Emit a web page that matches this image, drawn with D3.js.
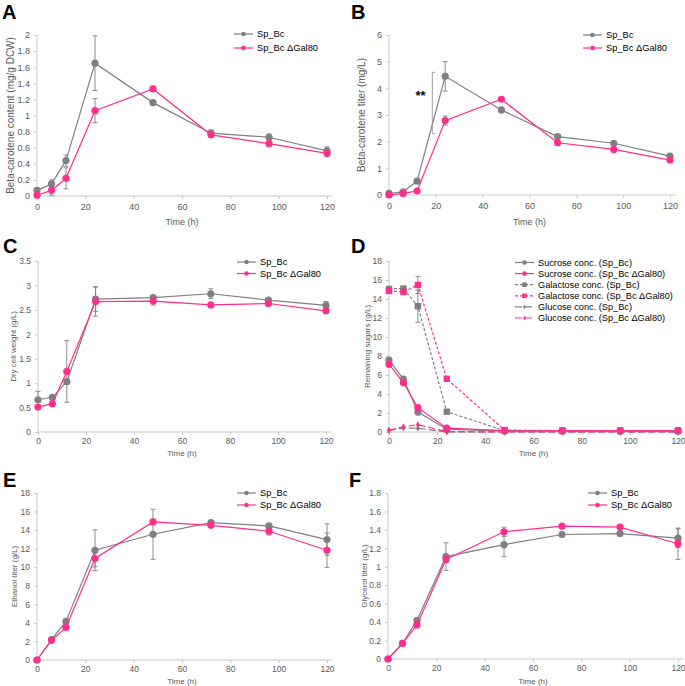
<!DOCTYPE html>
<html>
<head>
<meta charset="utf-8">
<script src="https://cdn.jsdelivr.net/npm/d3@7"></script>
<style>
  body { margin: 0; background: #fff; }
  svg { font-family: "Liberation Sans", Arial, sans-serif; }
  .tick text { fill: #595959; }
  .tick line, .domain { stroke: #c8c8c8; }
</style>
</head>
<body>
<svg id="chart" width="685" height="686"></svg>
<script>
// sampling times (h)
const times = [0, 6, 12, 24, 48, 72, 96, 120];
const xTicks = [0, 20, 40, 60, 80, 100, 120];

// A: beta-carotene content (mg/g DCW)
const aGray = [0.07, 0.15, 0.44, 1.65, 1.16, 0.78, 0.73, 0.56];
const aGrayErr = [0.03, 0.05, 0.07, 0.34, 0.03, 0.04, 0.04, 0.05];
const aPink = [0.01, 0.07, 0.22, 1.06, 1.33, 0.76, 0.65, 0.53];
const aPinkErr = [0.02, 0.06, 0.13, 0.15, 0.02, 0.03, 0.02, 0.04];

// B: beta-carotene titer (mg/L)
const bGray = [0.06, 0.12, 0.52, 4.45, 3.19, 2.19, 1.94, 1.46];
const bGrayErr = [0.03, 0.05, 0.08, 0.55, 0.07, 0.06, 0.06, 0.06];
const bPink = [0.0, 0.06, 0.15, 2.79, 3.59, 1.96, 1.71, 1.31];
const bPinkErr = [0.02, 0.03, 0.05, 0.17, 0.08, 0.07, 0.06, 0.06];

// C: dry cell weight (g/L)
const cGray = [0.66, 0.71, 1.03, 2.72, 2.75, 2.83, 2.70, 2.59];
const cGrayErr = [0.17, 0.03, 0.05, 0.25, 0.04, 0.10, 0.03, 0.08];
const cPink = [0.51, 0.58, 1.24, 2.67, 2.68, 2.60, 2.63, 2.48];
const cPinkErr = [0.03, 0.03, 0.63, 0.30, 0.08, 0.03, 0.03, 0.03];

// D: remaining sugars (g/L)
const sucGray = [7.56, 5.57, 2.1, 0.3, 0.1, 0.1, 0.1, 0.1];
const sucPink = [7.14, 5.18, 2.56, 0.4, 0.15, 0.15, 0.15, 0.15];
const galGray = [15.06, 15.1, 13.24, 2.14, 0.14, 0.1, 0.1, 0.1];
const galGrayErr = [0.1, 0.1, 1.7, 0.1, 0.05, 0.05, 0.05, 0.05];
const galPink = [14.85, 14.74, 15.48, 5.6, 0.2, 0.15, 0.15, 0.15];
const galPinkErr = [0.1, 0.1, 0.9, 0.1, 0.05, 0.05, 0.05, 0.05];
const gluGray = [0.15, 0.4, 0.4, 0.0, 0.0, 0.0, 0.0, 0.0];
const gluPink = [0.2, 0.56, 0.77, 0.05, 0.0, 0.0, 0.0, 0.0];

// E: ethanol titer (g/L)
const eGray = [0, 2.19, 4.16, 11.83, 13.55, 14.81, 14.45, 12.98];
const eGrayErr = [0, 0.1, 0.2, 2.2, 2.7, 0.2, 0.2, 1.7];
const ePink = [0, 2.12, 3.51, 10.94, 14.88, 14.52, 13.88, 11.83];
const ePinkErr = [0, 0.1, 0.2, 0.9, 0.3, 0.2, 0.4, 1.85];

// F: glycerol titer (g/L)
const fGray = [0, 0.17, 0.42, 1.11, 1.24, 1.35, 1.36, 1.31];
const fGrayErr = [0, 0.01, 0.02, 0.15, 0.13, 0.02, 0.02, 0.1];
const fPink = [0, 0.17, 0.37, 1.08, 1.38, 1.44, 1.43, 1.25];
const fPinkErr = [0, 0.01, 0.02, 0.03, 0.05, 0.02, 0.02, 0.17];

const strainNames = ["Sp_Bc", "Sp_Bc \u0394Gal80"];
const sugarNames = [
  "Sucrose conc. (Sp_Bc)", "Sucrose conc. (Sp_Bc \u0394Gal80)",
  "Galactose conc. (Sp_Bc)", "Galactose conc. (Sp_Bc \u0394Gal80)",
  "Glucose conc. (Sp_Bc)", "Glucose conc. (Sp_Bc \u0394Gal80)"
];

const GRAY = "#7f7f7f", PINK = "#ff2d8c";

const svg = d3.select("#chart");

function twoSeries(g, p, gErr, pErr) {
  return [
    {vals: g, err: gErr, color: GRAY, name: strainNames[0], shape: "circle", dash: null},
    {vals: p, err: pErr, color: PINK, name: strainNames[1], shape: "circle", dash: null}
  ];
}

const fmt1 = d => d3.format("")(+d.toFixed(1));

const panels = [
  {letter: "A", lx: 2, ly: 19, left: 37, right: 327, top: 35, bottom: 196, ymax: 2, step: 0.2, fmt: fmt1,
   title: "Beta-carotene content (mg/g DCW)", tx: 10, timeY: 225, fs: 9, tfs: 10, xfs: 9, pad: 5,
   series: twoSeries(aGray, aPink, aGrayErr, aPinkErr), legX: 234, legY: 34, legStep: 14, legFs: 9.3},
  {letter: "B", lx: 351, ly: 19, left: 389, right: 670, top: 35, bottom: 195, ymax: 6, step: 1, fmt: d => d,
   title: "Beta-carotene titer (mg/L)", tx: 361, timeY: 225, fs: 9, tfs: 10, xfs: 9, pad: 5,
   series: twoSeries(bGray, bPink, bGrayErr, bPinkErr), legX: 583, legY: 35, legStep: 13, legFs: 9.3, signif: true},
  {letter: "C", lx: 3, ly: 253, left: 38, right: 326, top: 261, bottom: 432, ymax: 3.5, step: 0.5, fmt: d => d,
   title: "Dry cell weight (g/L)", tx: 13, timeY: 456, fs: 8.5, tfs: 8, xfs: 8, pad: 3,
   series: twoSeries(cGray, cPink, cGrayErr, cPinkErr), legX: 237, legY: 262, legStep: 11.5, legFs: 9.3},
  {letter: "D", lx: 351, ly: 253, left: 389, right: 678, top: 261, bottom: 432, ymax: 18, step: 2, fmt: d => d,
   title: "Remaining sugars (g/L)", tx: 367, timeY: 456, fs: 8.5, tfs: 8, xfs: 8, pad: 3,
   series: [
     {vals: sucGray, err: null, color: GRAY, name: sugarNames[0], shape: "circle", dash: null},
     {vals: sucPink, err: null, color: PINK, name: sugarNames[1], shape: "circle", dash: null},
     {vals: galGray, err: galGrayErr, color: GRAY, name: sugarNames[2], shape: "square", dash: "3,2"},
     {vals: galPink, err: galPinkErr, color: PINK, name: sugarNames[3], shape: "square", dash: "3,2"},
     {vals: gluGray, err: null, color: GRAY, name: sugarNames[4], shape: "diamond", dash: "7,3"},
     {vals: gluPink, err: null, color: PINK, name: sugarNames[5], shape: "diamond", dash: "7,3"}
   ], legX: 515, legY: 262.5, legStep: 11.1, legFs: 9.2},
  {letter: "E", lx: 3, ly: 487, left: 37, right: 327, top: 493, bottom: 660, ymax: 18, step: 2, fmt: d => d,
   title: "Ethanol titer (g/L)", tx: 14, timeY: 684, fs: 8.5, tfs: 8, xfs: 8, pad: 3,
   series: twoSeries(eGray, ePink, eGrayErr, ePinkErr), legX: 237, legY: 493, legStep: 12, legFs: 9.3},
  {letter: "F", lx: 349, ly: 487, left: 388, right: 678, top: 493, bottom: 659, ymax: 1.8, step: 0.2, fmt: fmt1,
   title: "Glycerol titer (g/L)", tx: 364, timeY: 684, fs: 8.5, tfs: 8, xfs: 8, pad: 3,
   series: twoSeries(fGray, fPink, fGrayErr, fPinkErr), legX: 588, legY: 493, legStep: 12, legFs: 9.3}
];

function marker(sel, shape, color, r) {
  if (shape === "circle") {
    sel.append("circle").attr("r", r).attr("fill", color);
  } else if (shape === "square") {
    sel.append("rect").attr("x", -r).attr("y", -r).attr("width", 2 * r).attr("height", 2 * r).attr("fill", color);
  } else {
    sel.append("path").attr("d", d3.symbol(d3.symbolDiamond, r * r * 2)()).attr("fill", color);
  }
}

panels.forEach(p => {
  const g = svg.append("g");
  const x = d3.scaleLinear().domain([0, 120]).range([p.left, p.right]);
  const y = d3.scaleLinear().domain([0, p.ymax]).range([p.bottom, p.top]);
  const yTicks = d3.range(0, p.ymax + p.step / 2, p.step).map(v => +v.toFixed(2));

  g.append("text").attr("x", p.lx).attr("y", p.ly)
    .attr("font-size", 20).attr("font-weight", "bold").attr("fill", "#000").text(p.letter);

  const ya = g.append("g").attr("transform", `translate(${p.left},0)`)
    .call(d3.axisLeft(y).tickValues(yTicks).tickSize(3).tickPadding(4).tickFormat(p.fmt));
  ya.selectAll("text").attr("font-size", p.fs);
  ya.select(".domain").attr("d", `M0,${p.top}V${p.bottom}`);

  const xa = g.append("g").attr("transform", `translate(0,${p.bottom})`)
    .call(d3.axisBottom(x).tickValues(xTicks).tickSize(3).tickPadding(p.pad));
  xa.selectAll("text").attr("font-size", p.fs);
  xa.select(".domain").attr("d", `M${p.left},0H${p.right + 5}`);

  g.append("text").attr("transform", `translate(${p.tx},${(p.top + p.bottom) / 2}) rotate(-90)`)
    .attr("text-anchor", "middle").attr("dy", "0.35em").attr("font-size", p.tfs).attr("fill", "#595959").text(p.title);
  g.append("text").attr("x", (p.left + p.right) / 2).attr("y", p.timeY)
    .attr("text-anchor", "middle").attr("font-size", p.xfs).attr("fill", "#595959").text("Time (h)");

  const line = d3.line().x((d, i) => x(times[i])).y(d => y(d));

  // error bars first
  p.series.forEach(s => {
    if (!s.err) return;
    const eb = g.append("g").attr("stroke", "#7f7f7f").attr("stroke-width", 0.9);
    s.vals.forEach((v, i) => {
      const e = s.err[i];
      if (!e) return;
      const cx = x(times[i]);
      eb.append("line").attr("x1", cx).attr("x2", cx).attr("y1", y(v - e)).attr("y2", y(v + e));
      eb.append("line").attr("x1", cx - 2.5).attr("x2", cx + 2.5).attr("y1", y(v - e)).attr("y2", y(v - e));
      eb.append("line").attr("x1", cx - 2.5).attr("x2", cx + 2.5).attr("y1", y(v + e)).attr("y2", y(v + e));
    });
  });

  p.series.forEach(s => {
    g.append("path").datum(s.vals).attr("d", line).attr("fill", "none")
      .attr("stroke", s.color).attr("stroke-width", 1.2).attr("stroke-dasharray", s.dash);
    s.vals.forEach((v, i) => {
      const m = g.append("g").attr("transform", `translate(${x(times[i])},${y(v)})`);
      marker(m, s.shape, s.color, s.shape === "diamond" ? 2.6 : s.shape === "square" ? 3.2 : 3.6);
    });
  });

  // legend
  p.series.forEach((s, i) => {
    const ly = p.legY + i * p.legStep;
    const lg = g.append("g").attr("transform", `translate(${p.legX},${ly})`);
    lg.append("line").attr("x1", 0).attr("x2", 19).attr("stroke", s.color).attr("stroke-width", 1.2)
      .attr("stroke-dasharray", s.dash);
    const mg = lg.append("g").attr("transform", "translate(9.5,0)");
    marker(mg, s.shape, s.color, s.shape === "diamond" ? 1.8 : 2.3);
    lg.append("text").attr("x", 23).attr("dy", "0.35em").attr("font-size", p.legFs).attr("fill", "#000").text(s.name);
  });

  if (p.signif) {
    const bx = x(18.5);
    const br = g.append("g").attr("stroke", "#999").attr("stroke-width", 0.9).attr("fill", "none");
    br.append("path").attr("d", `M${bx + 3},${y(4.6)}H${bx}V${y(2.3)}H${bx + 3}`);
    g.append("text").attr("x", x(13.5)).attr("y", y(3.72)).attr("dy", "0.35em").attr("text-anchor", "middle")
      .attr("font-size", 13).attr("font-weight", "bold").attr("fill", "#000").text("**");
  }
});
</script>
</body>
</html>
